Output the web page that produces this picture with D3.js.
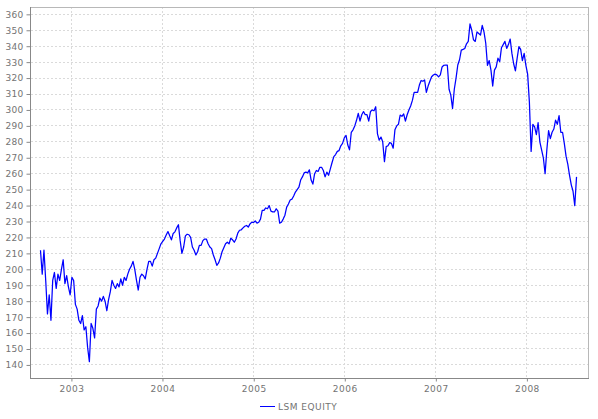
<!DOCTYPE html>
<html>
<head>
<meta charset="utf-8">
<script src="https://cdn.jsdelivr.net/npm/d3@7"></script>
<style>
  html, body { margin: 0; padding: 0; background: #fff; }
  svg { display: block; }
  text { font-family: "DejaVu Sans", sans-serif; font-size: 9px; fill: #737373; }
</style>
</head>
<body>
<svg id="chart" width="598" height="419"></svg>
<script>
// ---- data ----
const seriesName = "LSM EQUITY";
const startDate = "2002-08-30";   // first weekly observation
const stepDays = 7;               // weekly observations
const values = [
  212, 197, 212, 193, 172, 184, 168, 193, 198, 188,
  197, 193, 200, 206, 191, 196, 189, 184, 195, 193,
  178, 175, 168, 166, 171, 162, 164, 151, 142, 166,
  163, 157, 175, 177, 182, 180, 183, 180, 174, 181,
  186, 193, 190, 188, 191, 189, 194, 190, 195, 193,
  197, 200,
  202, 205, 200, 193, 187, 195, 197, 196, 194, 200,
  205, 205, 202, 206, 207, 210, 213, 216, 217.5, 219,
  221.5, 223.7, 221, 218.5, 222.5, 223.5, 226, 228, 218, 210,
  214, 221, 222, 221.7, 220, 214, 212, 209, 211, 215,
  215, 218, 219, 219, 216, 214, 213, 209, 206, 202.5,
  204, 207, 211, 213.5,
  216, 217, 216, 219.5, 218.5, 217, 219, 222.7, 224.5, 224.8,
  226, 227, 227.5, 226.5, 228.5, 229.5, 229.4, 230.3, 229, 229.5,
  231.5, 237, 237, 238.5, 238, 240, 236.5, 236, 236, 238,
  236.5, 229, 229.5, 231.5, 234, 239, 241, 243.5, 244, 246,
  248.5, 250, 251.5, 256, 258, 260.5, 261, 260.5, 262.4, 256,
  253.5, 260, 262, 261.4,
  264, 264, 262, 258, 261, 259, 263, 267, 270.7, 272,
  274, 274.5, 277.5, 279, 282.5, 284, 278, 275, 286, 287.5,
  290, 293.5, 297.8, 293, 297, 299, 297, 297, 293, 299,
  300, 299.5, 302, 285, 281, 283, 280, 267.6, 277, 277.5,
  279.5, 279, 276, 287.5, 290, 291, 296.8, 296, 297.5, 293,
  297, 300, 302.5, 306, 311,
  311, 311, 315.6, 318.5, 318, 318.8, 311, 315, 318, 320.8,
  321.9, 322.5, 322, 320.8, 322, 327, 328, 328.2, 328.2, 313,
  309.3, 301, 313, 320, 328.2, 331.5, 337.5, 338, 338.6, 341.5,
  343, 354, 350, 344, 343, 349, 348, 347, 353, 349,
  342, 328, 331, 325, 315, 325, 327, 332.5, 330.3, 339,
  341, 343, 338.6, 341,
  344.5, 335.5, 329, 324.5, 332.5, 339.7, 338, 331, 335.5, 328,
  322.5, 305, 274, 291, 289.4, 284.5, 292, 280, 275, 270,
  260, 275, 287, 282, 286, 288, 293.6, 291, 296.5, 286,
  286, 279, 271, 266, 259, 253, 249, 240, 258
];
const yTicks = [140, 150, 160, 170, 180, 190, 200, 210, 220, 230, 240, 250,
                260, 270, 280, 290, 300, 310, 320, 330, 340, 350, 360];
const xTickYears = [2003, 2004, 2005, 2006, 2007, 2008];
const xDomain = ["2002-07-19", "2008-09-02"];
const yDomain = [131.8, 364.6];

// ---- layout ----
const svg = d3.select("#chart");
const pLeft = 30, pRight = 588, pTop = 7, pBottom = 378;

const parse = d3.utcParse("%Y-%m-%d");
const start = parse(startDate);
const data = values.map((v, i) => ({ date: d3.utcDay.offset(start, i * stepDays), value: v }));

const x = d3.scaleUtc().domain(xDomain.map(parse)).range([pLeft, pRight]);
const y = d3.scaleLinear().domain(yDomain).range([pBottom, pTop]);

const xTicks = xTickYears.map(yr => new Date(Date.UTC(yr, 0, 1)));
const crisp = v => Math.round(v) + 0.5;

// gridlines
const grid = svg.append("g");
grid.selectAll("line.h").data(yTicks).join("line")
  .attr("x1", pLeft + 1).attr("x2", pRight)
  .attr("y1", d => crisp(y(d) - 0.5)).attr("y2", d => crisp(y(d) - 0.5))
  .attr("stroke", "#dadada").attr("stroke-width", 1).attr("stroke-dasharray", "2,2");
grid.selectAll("line.v").data(xTicks).join("line")
  .attr("y1", pTop).attr("y2", pBottom)
  .attr("x1", d => crisp(x(d) - 0.5)).attr("x2", d => crisp(x(d) - 0.5))
  .attr("stroke", "#dadada").attr("stroke-width", 1).attr("stroke-dasharray", "2,2");

// frame (top/right lighter)
svg.append("line").attr("x1", pLeft).attr("x2", pRight + 0.5).attr("y1", pTop + 0.5).attr("y2", pTop + 0.5)
  .attr("stroke", "#b8b8b8");
svg.append("line").attr("x1", pRight + 0.5).attr("x2", pRight + 0.5).attr("y1", pTop).attr("y2", pBottom)
  .attr("stroke", "#b8b8b8");

// series line
const line = d3.line().x(d => x(d.date)).y(d => y(d.value));
svg.append("path").datum(data)
  .attr("d", line)
  .attr("fill", "none")
  .attr("stroke", "#0000ff")
  .attr("stroke-width", 1.25)
  .attr("stroke-linejoin", "round");

// axes
const yAxis = d3.axisLeft(y).tickValues(yTicks).tickSize(4).tickPadding(3).tickFormat(d3.format("d"));
const gy = svg.append("g").attr("transform", `translate(${pLeft + 0.5},0)`).call(yAxis);
gy.select(".domain").attr("stroke", "#888").attr("d", `M0,${pTop}V${pBottom + 0.5}`);
gy.selectAll(".tick line").attr("stroke", "#888");
gy.selectAll(".tick text").attr("fill", "#737373").style("font-family", "'DejaVu Sans', sans-serif")
  .style("font-size", "9px").style("letter-spacing", "0.3px");

const xAxis = d3.axisBottom(x).tickValues(xTicks).tickSize(3).tickPadding(4).tickFormat(d3.utcFormat("%Y"));
const gx = svg.append("g").attr("transform", `translate(0,${pBottom + 0.5})`).call(xAxis);
gx.select(".domain").attr("stroke", "#888").attr("d", `M${pLeft},0H${pRight + 1}`);
gx.selectAll(".tick line").attr("stroke", "#888");
gx.selectAll(".tick text").attr("fill", "#737373").style("font-family", "'DejaVu Sans', sans-serif")
  .style("font-size", "9px").style("letter-spacing", "0.5px");

// legend
const legend = svg.append("g");
legend.append("line").attr("x1", 260).attr("x2", 275).attr("y1", 406.5).attr("y2", 406.5)
  .attr("stroke", "#0000ff").attr("stroke-width", 1);
legend.append("text").attr("x", 278).attr("y", 409.5).text(seriesName)
  .style("letter-spacing", "0.5px");
</script>
</body>
</html>
